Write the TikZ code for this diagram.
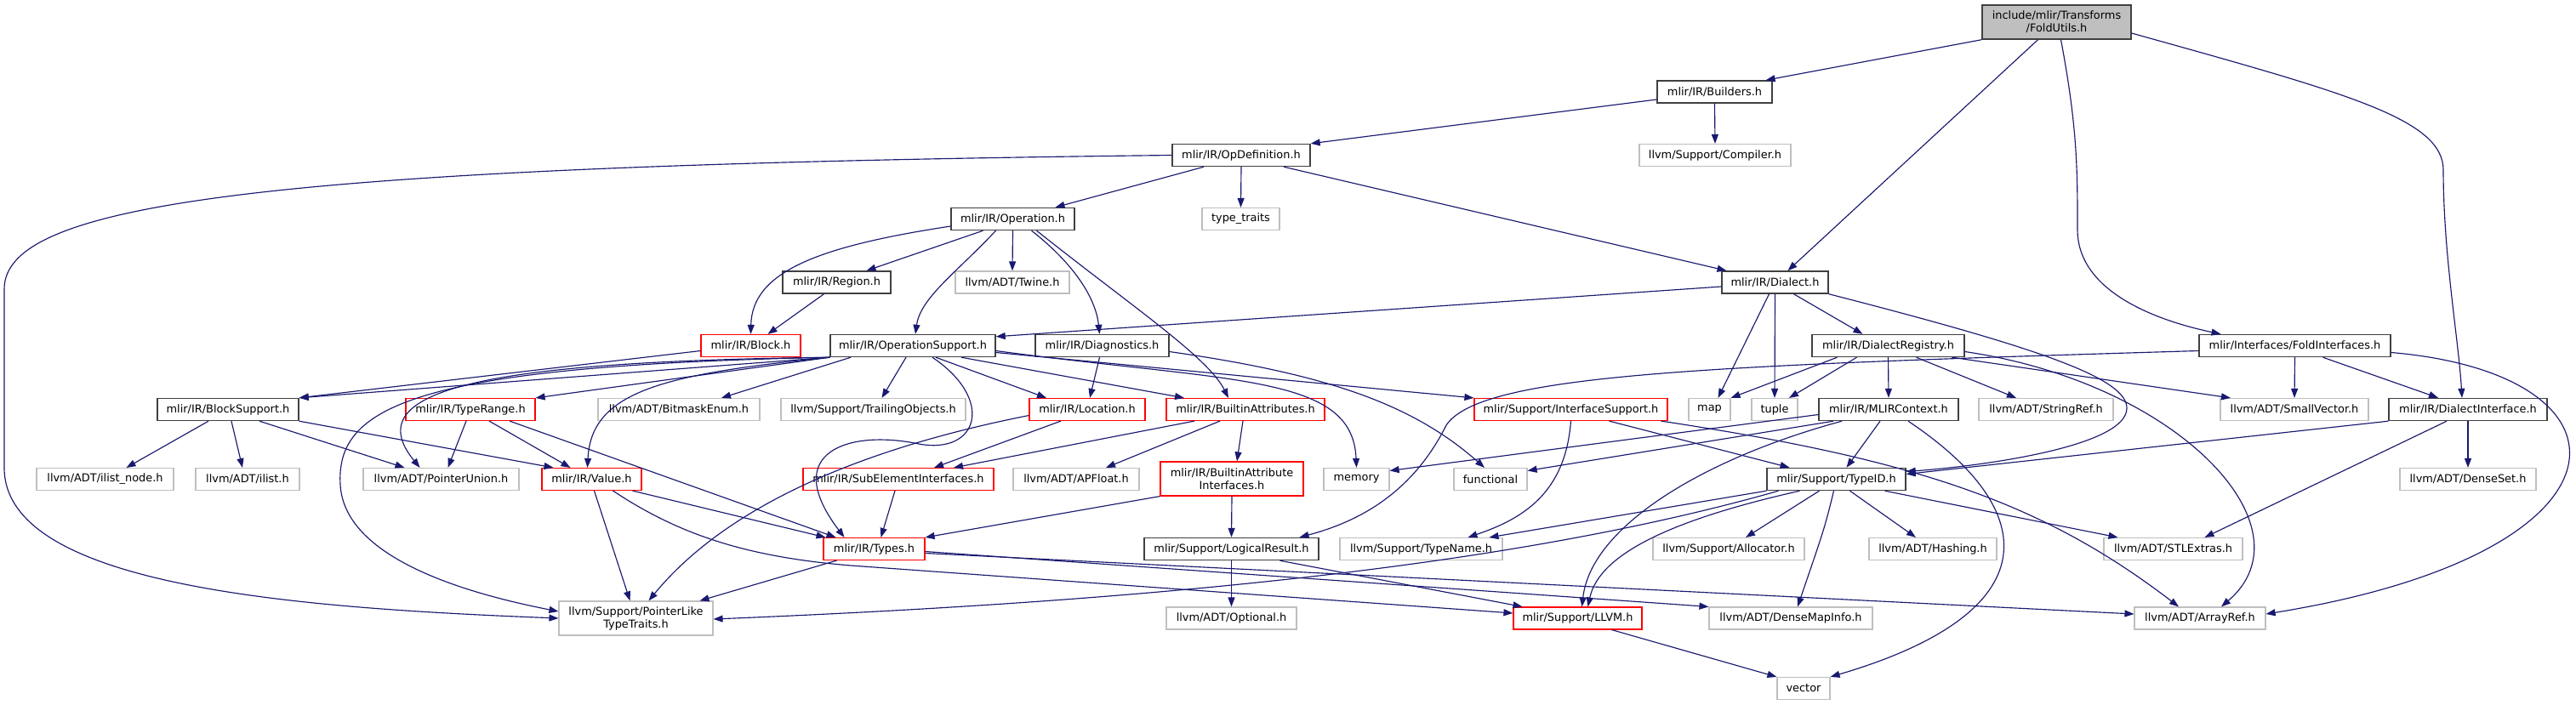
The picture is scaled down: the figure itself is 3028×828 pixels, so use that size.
\documentclass[tikz,border=0pt]{standalone}
\usepackage{fontspec}
\setmainfont{DejaVu Sans}
\usetikzlibrary{arrows.meta}
\definecolor{edgec}{RGB}{25,25,112}
\definecolor{grayb}{RGB}{191,191,191}
\definecolor{darkb}{RGB}{64,64,64}
\definecolor{redb}{RGB}{255,0,0}
\begin{document}
\begin{tikzpicture}[x=1pt,y=-1pt,
  nb/.style={draw, line width=1.15pt, minimum height=26pt, inner sep=0pt, text=black,
    font=\fontsize{12.9}{15}\selectfont, align=center},
  blk/.style={nb, draw=darkb, line width=1.4pt},
  gry/.style={nb, draw=grayb},
  rd/.style={nb, draw=redb},
  rt/.style={nb, draw=darkb, fill=grayb, minimum height=40pt, line width=1.4pt},
  e/.style={draw=edgec, line width=1.15pt, -{Triangle[length=11pt,width=8pt]}}
]
\fill[white] (0,0) rectangle (3028,828);
\useasboundingbox (0,0) rectangle (3028,828);

% nodes
\node[rt, minimum width=175pt] (root) at (2417.5,26) {include/mlir/Transforms\\/FoldUtils.h};
\node[blk, minimum width=135pt] (builders) at (2015.5,108) {mlir/IR/Builders.h};
\node[gry, minimum width=178pt] (compiler) at (2016,182.5) {llvm/Support/Compiler.h};
\node[blk, minimum width=162pt] (opdef) at (1459,182.5) {mlir/IR/OpDefinition.h};
\node[blk, minimum width=145pt] (operation) at (1190.5,257.5) {mlir/IR/Operation.h};
\node[gry, minimum width=91pt] (typetraits) at (1458.5,257.5) {type\_traits};
\node[blk, minimum width=127pt] (region) at (983.5,332) {mlir/IR/Region.h};
\node[gry, minimum width=134pt] (twine) at (1190,332) {llvm/ADT/Twine.h};
\node[blk, minimum width=125pt] (dialect) at (2086.5,332) {mlir/IR/Dialect.h};
\node[rd, minimum width=117pt] (block) at (882.5,406.5) {mlir/IR/Block.h};
\node[blk, minimum width=194pt] (opsupport) at (1073,406.5) {mlir/IR/OperationSupport.h};
\node[blk, minimum width=157pt] (diagnostics) at (1295.5,406.5) {mlir/IR/Diagnostics.h};
\node[blk, minimum width=179pt] (dialectregistry) at (2219.5,406.5) {mlir/IR/DialectRegistry.h};
\node[blk, minimum width=225pt] (foldinterfaces) at (2697.5,406.5) {mlir/Interfaces/FoldInterfaces.h};
\node[blk, minimum width=166pt] (blocksupport) at (268,481.5) {mlir/IR/BlockSupport.h};
\node[rd, minimum width=152pt] (typerange) at (553,481.5) {mlir/IR/TypeRange.h};
\node[gry, minimum width=190pt] (bitmask) at (798,481.5) {llvm/ADT/BitmaskEnum.h};
\node[gry, minimum width=217pt] (trailing) at (1026.5,481.5) {llvm/Support/TrailingObjects.h};
\node[rd, minimum width=136pt] (location) at (1278,481.5) {mlir/IR/Location.h};
\node[rd, minimum width=186pt] (builtinattr) at (1464,481.5) {mlir/IR/BuiltinAttributes.h};
\node[rd, minimum width=227pt] (interfacesupport) at (1846.5,481.5) {mlir/Support/InterfaceSupport.h};
\node[gry, minimum width=49pt] (map) at (2009.5,481.5) {map};
\node[gry, minimum width=54pt] (tuple) at (2086,481.5) {tuple};
\node[blk, minimum width=164pt] (mlircontext) at (2220,481.5) {mlir/IR/MLIRContext.h};
\node[gry, minimum width=158pt] (stringref) at (2405,481.5) {llvm/ADT/StringRef.h};
\node[gry, minimum width=174pt] (smallvector) at (2697,481.5) {llvm/ADT/SmallVector.h};
\node[blk, minimum width=186pt] (dialectinterface) at (2901,481.5) {mlir/IR/DialectInterface.h};
\node[gry, minimum width=161pt] (ilistnode) at (123.5,563.5) {llvm/ADT/ilist\_node.h};
\node[gry, minimum width=122pt] (ilist) at (291,563.5) {llvm/ADT/ilist.h};
\node[gry, minimum width=183pt] (pointerunion) at (518.5,563.5) {llvm/ADT/PointerUnion.h};
\node[rd, minimum width=117pt] (value) at (695.5,563.5) {mlir/IR/Value.h};
\node[rd, minimum width=224pt] (subelement) at (1056,563.5) {mlir/IR/SubElementInterfaces.h};
\node[gry, minimum width=148pt] (apfloat) at (1265,563.5) {llvm/ADT/APFloat.h};
\node[rd, minimum width=168pt, minimum height=40pt] (builtinattrif) at (1448,563) {mlir/IR/BuiltinAttribute\\Interfaces.h};
\node[gry, minimum width=77pt] (memory) at (1594.5,563.5) {memory};
\node[gry, minimum width=86pt] (functional) at (1752,563.5) {functional};
\node[blk, minimum width=163pt] (typeid) at (2158.5,563.5) {mlir/Support/TypeID.h};
\node[gry, minimum width=160pt] (denseset) at (2901,563.5) {llvm/ADT/DenseSet.h};
\node[rd, minimum width=119pt] (types) at (1027.5,645.5) {mlir/IR/Types.h};
\node[blk, minimum width=205pt] (logicalresult) at (1447.5,645.5) {mlir/Support/LogicalResult.h};
\node[gry, minimum width=191pt] (typename) at (1670.5,645.5) {llvm/Support/TypeName.h};
\node[gry, minimum width=178pt] (allocator) at (2032,645.5) {llvm/Support/Allocator.h};
\node[gry, minimum width=150pt] (hashing) at (2272,645.5) {llvm/ADT/Hashing.h};
\node[gry, minimum width=163pt] (stlextras) at (2554.5,645.5) {llvm/ADT/STLExtras.h};
\node[gry, minimum width=181pt, minimum height=40pt] (pointerlike) at (747.5,727) {llvm/Support/PointerLike\\TypeTraits.h};
\node[gry, minimum width=153pt] (optional) at (1447.5,727) {llvm/ADT/Optional.h};
\node[rd, minimum width=151pt] (llvm) at (1854.5,727) {mlir/Support/LLVM.h};
\node[gry, minimum width=192pt] (densemapinfo) at (2105,727) {llvm/ADT/DenseMapInfo.h};
\node[gry, minimum width=154pt] (arrayref) at (2586,727) {llvm/ADT/ArrayRef.h};
\node[gry, minimum width=62pt] (vector) at (2120,809.5) {vector};

% edges from root
\draw[e] (root.south west) -- ([xshift=60]builders.north);
\draw[e] ([xshift=-22]root.south) -- ([xshift=15]dialect.north);
\draw[e] ([xshift=5]root.south) .. controls (2442,150) and (2442,200) .. (2442,270) .. controls (2442,345) and (2540,378) .. ([xshift=-87]foldinterfaces.north);
\draw[e] ([yshift=-13]root.east) .. controls (2760,110) and (2872,140) .. (2872,200) .. controls (2872,300) and (2890,400) .. ([xshift=-7]dialectinterface.north);
% builders
\draw[e] ([yshift=-9]builders.west) -- (opdef.north east);
\draw[e] (builders.south) -- (compiler.north);
% opdef
\draw[e] ([xshift=-44]opdef.south) -- ([xshift=50]operation.north);
\draw[e] (opdef.south) -- (typetraits.north);
\draw[e] ([xshift=50]opdef.south) -- ([xshift=-57]dialect.north);
\draw[e] (opdef.west) .. controls (300,195) and (5,240) .. (5,340) -- (5,550) .. controls (5,690) and (350,715) .. (pointerlike.west);
% operation
\draw[e] ([yshift=-8.5]operation.west) .. controls (960,290) and (884,320) .. (block.north);
\draw[e] ([xshift=-35]operation.south) -- ([xshift=35]region.north);
\draw[e] ([xshift=-20]operation.south) .. controls (1125,320) and (1082,350) .. ([xshift=3]opsupport.north);
\draw[e] (operation.south) -- (twine.north);
\draw[e] ([xshift=22]operation.south) .. controls (1262,310) and (1288,350) .. ([xshift=-3]diagnostics.north);
\draw[e] ([xshift=28]operation.south) .. controls (1330,360) and (1420,420) .. ([xshift=-20]builtinattr.north);
% region
\draw[e] ([xshift=-15]region.south) -- ([xshift=20]block.north);
% dialect
\draw[e] ([yshift=-5]dialect.west) -- ([yshift=-3]opsupport.north east);
\draw[e] ([xshift=-7]dialect.south) -- ([xshift=10]map.north);
\draw[e] (dialect.south) -- (tuple.north);
\draw[e] ([xshift=22]dialect.south) -- ([xshift=-30]dialectregistry.north);
\draw[e] (dialect.south east) .. controls (2400,410) and (2500,445) .. (2500,480) .. controls (2500,525) and (2330,548) .. ([yshift=9]typeid.east);
% block
\draw[e] ([yshift=-6]block.west) -- (blocksupport.north east);
% opsupport
\draw[e] (opsupport.south west) -- (blocksupport.north east);
\draw[e] (opsupport.south west) -- (typerange.north east);
\draw[e] (opsupport.south west) .. controls (780,440) and (695,460) .. ([xshift=-5]value.north);
\draw[e] (opsupport.south west) .. controls (560,425) and (420,460) .. ([xshift=-25]pointerunion.north);
\draw[e] (opsupport.south west) .. controls (480,430) and (395,480) .. (400,570) .. controls (405,660) and (560,700) .. ([yshift=8]pointerlike.west);
\draw[e] ([xshift=-73]opsupport.south) -- ([xshift=50]bitmask.north);
\draw[e] ([xshift=-8]opsupport.south) -- ([xshift=10]trailing.north);
\draw[e] ([xshift=23]opsupport.south) .. controls (1170,470) and (1150,535) .. (1080,522) .. controls (1000,505) and (915,530) .. ([xshift=-35]types.north);
\draw[e] ([xshift=27]opsupport.south) -- ([xshift=-48]location.north);
\draw[e] ([xshift=57]opsupport.south) -- ([xshift=-72]builtinattr.north);
\draw[e] ([yshift=-6]opsupport.east) .. controls (1450,450) and (1590,440) .. (memory.north);
\draw[e] ([yshift=-8]opsupport.east) -- (interfacesupport.north west);
% diagnostics
\draw[e] ([xshift=-3]diagnostics.south) -- ([xshift=3]location.north);
\draw[e] ([yshift=-7]diagnostics.east) .. controls (1560,440) and (1660,475) .. ([xshift=-7]functional.north);
% blocksupport
\draw[e] ([xshift=-23]blocksupport.south) -- ([xshift=25]ilistnode.north);
\draw[e] ([xshift=4]blocksupport.south) -- ([xshift=-6]ilist.north);
\draw[e] ([xshift=37]blocksupport.south) -- ([xshift=-43]pointerunion.north);
\draw[e] (blocksupport.south east) -- ([xshift=-45]value.north);
% typerange
\draw[e] ([xshift=-5]typerange.south) -- ([xshift=8]pointerunion.north);
\draw[e] ([xshift=22]typerange.south) -- ([xshift=-25]value.north);
\draw[e] ([xshift=46]typerange.south) -- ([xshift=-45]types.north);
% value
\draw[e] ([xshift=3]value.south) -- ([xshift=-7]pointerlike.north);
\draw[e] ([xshift=48]value.south) -- ([xshift=-57]types.north);
\draw[e] ([xshift=25]value.south) .. controls (800,630) and (880,655) .. (1000,665) -- ([yshift=6]llvm.west);
% location
\draw[e] ([xshift=-31]location.south) -- ([xshift=42]subelement.north);
\draw[e] ([yshift=-7]location.west) .. controls (1000,530) and (850,600) .. ([xshift=15]pointerlike.north);
% builtinattributes
\draw[e] ([xshift=-60]builtinattr.south) -- ([xshift=65]subelement.north);
\draw[e] ([xshift=-30]builtinattr.south) -- ([xshift=35]apfloat.north);
\draw[e] ([xshift=-3]builtinattr.south) -- ([xshift=6]builtinattrif.north);
% subelement, builtinattrif
\draw[e] ([xshift=-4]subelement.south) -- ([xshift=8]types.north);
\draw[e] (builtinattrif.south west) -- (types.north east);
\draw[e] (builtinattrif.south) -- (logicalresult.north);
% types
\draw[e] ([xshift=-44]types.south) -- ([xshift=75]pointerlike.north);
\draw[e] ([yshift=-3]types.east) -- (densemapinfo.north west);
\draw[e] ([yshift=-5]types.east) -- ([yshift=5]arrayref.west);
% logicalresult
\draw[e] (logicalresult.south) -- (optional.north);
\draw[e] ([xshift=57]logicalresult.south) -- ([xshift=-65]llvm.north);
% interfacesupport
\draw[e] ([xshift=45]interfacesupport.south) -- ([xshift=-55]typeid.north);
\draw[e] (interfacesupport.south) .. controls (1840,580) and (1790,610) .. ([xshift=55]typename.north);
\draw[e] ([xshift=106]interfacesupport.south) .. controls (2250,540) and (2400,590) .. ([xshift=-25]arrayref.north);
% dialectregistry
\draw[e] ([xshift=-60]dialectregistry.south) -- (map.north east);
\draw[e] ([xshift=-37]dialectregistry.south) -- ([xshift=17]tuple.north);
\draw[e] (dialectregistry.south) -- (mlircontext.north);
\draw[e] ([xshift=33]dialectregistry.south) -- ([xshift=-35]stringref.north);
\draw[e] ([xshift=75]dialectregistry.south) -- ([xshift=-75]smallvector.north);
\draw[e] ([yshift=-7]dialectregistry.east) .. controls (2560,450) and (2720,620) .. ([xshift=25]arrayref.north);
% foldinterfaces
\draw[e] ([yshift=-6]foldinterfaces.west) .. controls (2000,430) and (1740,440) .. (1700,500) .. controls (1665,570) and (1610,610) .. ([xshift=80]logicalresult.north);
\draw[e] (foldinterfaces.south) -- (smallvector.north);
\draw[e] ([xshift=33]foldinterfaces.south) -- ([xshift=-35]dialectinterface.north);
\draw[e] ([yshift=-8]foldinterfaces.east) .. controls (3110,440) and (3110,650) .. ([yshift=5]arrayref.east);
% dialectinterface
\draw[e] (dialectinterface.south west) -- ([yshift=6]typeid.east);
\draw[e] ([xshift=-25]dialectinterface.south) -- ([xshift=37]stlextras.north);
\draw[e] (dialectinterface.south) -- (denseset.north);
% mlircontext
\draw[e] ([yshift=-6]mlircontext.west) -- ([yshift=10]memory.east);
\draw[e] ([xshift=-65]mlircontext.south) -- ([yshift=10]functional.east);
\draw[e] ([xshift=-10]mlircontext.south) -- ([xshift=12]typeid.north);
\draw[e] ([xshift=-55]mlircontext.south) .. controls (2000,540) and (1870,620) .. ([xshift=5]llvm.north);
\draw[e] ([xshift=23]mlircontext.south) .. controls (2400,600) and (2410,720) .. (vector.north east);
% typeid
\draw[e] (typeid.south west) -- ([xshift=80]typename.north);
\draw[e] ([xshift=-68]typeid.south) .. controls (1800,660) and (1400,705) .. ([yshift=-1]pointerlike.east);
\draw[e] ([xshift=-43]typeid.south) .. controls (1970,610) and (1880,650) .. ([xshift=12]llvm.north);
\draw[e] ([xshift=-20]typeid.south) -- ([xshift=20]allocator.north);
\draw[e] ([xshift=-3]typeid.south) .. controls (2145,620) .. ([xshift=8]densemapinfo.north);
\draw[e] ([xshift=16]typeid.south) -- ([xshift=-20]hashing.north);
\draw[e] ([xshift=57]typeid.south) -- ([xshift=-65]stlextras.north);
% llvm
\draw[e] ([xshift=40]llvm.south) -- (vector.north west);
\end{tikzpicture}
\end{document}
